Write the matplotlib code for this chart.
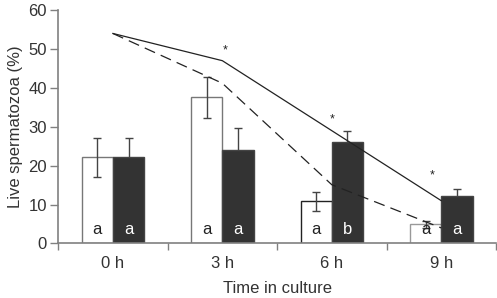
import numpy as np
import matplotlib
matplotlib.use("Agg")
from matplotlib import pyplot as plt

plt.rcParams['font.family'] = ['Liberation Sans', 'DejaVu Sans']

# data
times = ['0 h', '3 h', '6 h', '9 h']
white_vals = [22.2, 37.6, 10.8, 5.0]
white_err = [5.0, 5.3, 2.4, 0.9]
black_vals = [22.2, 24.1, 26.2, 12.1]
black_err = [5.0, 5.7, 2.8, 1.9]
solid_line = [54.0, 47.0, 29.0, 11.0]
dashed_line = [54.0, 41.2, 15.1, 4.0]
white_letters = ['a', 'a', 'a', 'a']
black_letters = ['a', 'a', 'b', 'a']
star_x = [1.03, 2.0, 2.92]
star_y = [49.6, 32.0, 17.6]

x = np.arange(len(times))
w = 0.286
grey = '#808080'
dark = '#333333'

fig = plt.figure(figsize=(4.97, 2.98), dpi=100)
ax = fig.add_axes([0.117, 0.183, 0.881, 0.783])

ax.bar(x - w/2, white_vals, w, color='white', edgecolor=['#777777', '#777777', '#222222', '#999999'], linewidth=1, zorder=2)
ax.bar(x + w/2, black_vals, w, color=dark, edgecolor='#444444', linewidth=1, zorder=2)
ax.errorbar(x - w/2, white_vals, yerr=white_err, fmt='none', ecolor='#444444', elinewidth=1, capsize=3, capthick=1, zorder=3)
ax.errorbar(x + w/2, black_vals, yerr=black_err, fmt='none', ecolor='#444444', elinewidth=1, capsize=3, capthick=1, zorder=1)

ax.plot(x, solid_line, color='#222222', lw=0.9, zorder=4)
ax.plot(x, dashed_line, color='#222222', lw=0.9, dashes=(9, 5), zorder=4)

for xi, s in zip(star_x, star_y):
    ax.text(xi, s, '*', ha='center', va='center', fontsize=9, color='#222222')

for i in range(len(times)):
    ax.text(x[i] - w/2, 3.5, white_letters[i], ha='center', va='center', fontsize=12, color='#222222', zorder=5)
    ax.text(x[i] + w/2, 3.5, black_letters[i], ha='center', va='center', fontsize=12, color='white', zorder=5)

ax.set_xlim(-0.5, 3.5)
ax.set_ylim(0, 60)
ax.set_yticks(range(0, 61, 10))
ax.set_xticks(x)
ax.set_xticklabels(times)
ax.set_xticks(np.arange(-0.5, 3.6, 1), minor=True)
ax.tick_params(axis='x', which='major', length=0, pad=9, labelsize=12, labelcolor=dark)
ax.tick_params(axis='x', which='minor', length=5, color=grey, width=1)
ax.tick_params(axis='y', length=6, color=grey, width=1, labelsize=12, labelcolor=dark, pad=2)

for side in ['top', 'right']:
    ax.spines[side].set_visible(False)
for side in ['left', 'bottom']:
    ax.spines[side].set_color(grey)
    ax.spines[side].set_linewidth(1.2)

ax.set_ylabel('Live spermatozoa (%)', fontsize=12, color=dark, labelpad=4)
ax.set_xlabel('Time in culture', fontsize=12, color=dark, labelpad=7)

fig.savefig('out.png', dpi=100)
